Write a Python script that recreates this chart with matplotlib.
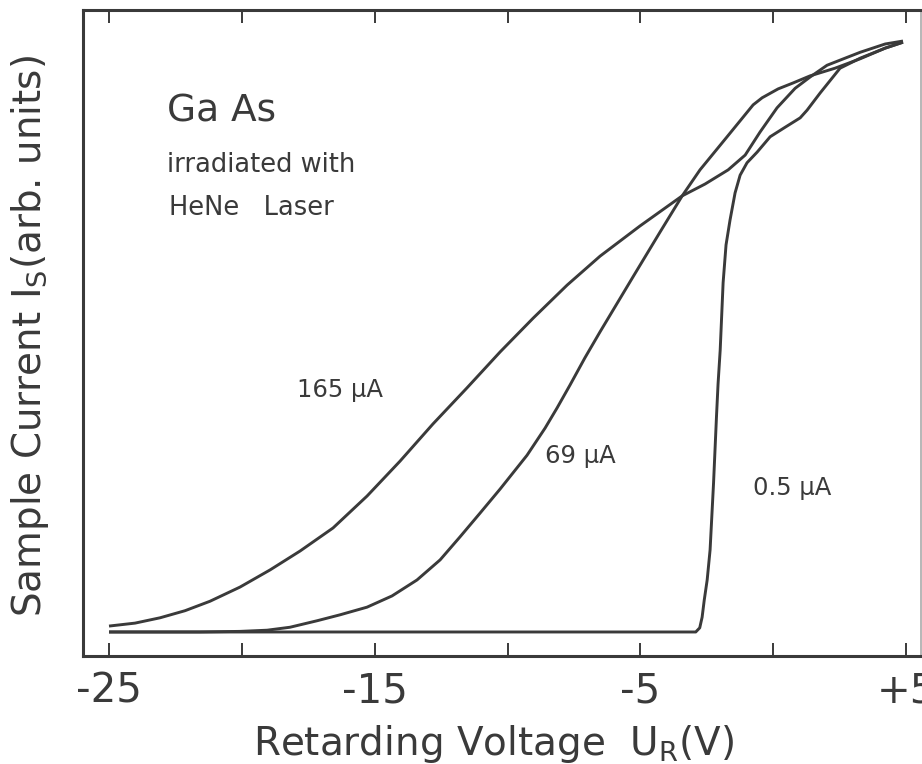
import matplotlib.pyplot as plt

plt.rcParams['font.family'] = ['DejaVu Sans']

INK = '#3a3a3a'

# retarding voltage (V) and sample current (arb. units) for each beam current
u_165 = [-25.0, -24.02, -23.08, -22.14, -21.20, -20.07, -18.94, -17.81, -16.57,
         -15.29, -14.05, -12.81, -11.53, -10.28, -9.04, -7.76, -6.52, -5.02,
         -3.43, -2.57, -1.70, -1.06, -0.50, 0.14, 0.82, 1.38, 2.02, 2.70, 3.27,
         4.21, 4.88]
i_165 = [0.010, 0.015, 0.024, 0.036, 0.052, 0.076, 0.105, 0.137, 0.176,
         0.230, 0.289, 0.352, 0.413, 0.474, 0.531, 0.587, 0.636, 0.687,
         0.738, 0.758, 0.782, 0.807, 0.846, 0.887, 0.920, 0.939, 0.959, 0.971, 0.981,
         0.995, 1.000]

u_69 = [-25.0, -21.58, -20.07, -19.05, -18.19, -17.17, -16.31, -15.29, -14.35,
        -13.41, -12.54, -11.79, -11.04, -10.28, -9.27, -8.59, -8.14, -7.65,
        -7.09, -6.52, -5.28, -4.26, -3.43, -2.76, -1.74, -1.25, -0.76, -0.42,
        0.18, 0.74, 1.38, 2.32, 3.27, 4.21, 4.88]
i_69 = [0.0, 0.0, 0.001, 0.003, 0.008, 0.019, 0.029, 0.042, 0.061,
        0.088, 0.122, 0.161, 0.201, 0.242, 0.299, 0.345, 0.379, 0.418,
        0.464, 0.508, 0.601, 0.677, 0.738, 0.782, 0.838, 0.865, 0.892, 0.904,
        0.919, 0.929, 0.941, 0.954, 0.970, 0.988, 0.998]

u_05 = [-25.0, -2.92, -2.77, -2.68, -2.60, -2.49, -2.38, -2.25, -2.14, -2.08,
        -2.00, -1.89, -1.78, -1.63, -1.44, -1.25, -0.99, -0.61, -0.12, 0.44,
        1.01, 1.27, 1.76, 2.51, 3.27, 4.21, 4.88]
i_05 = [0.0, 0.0, 0.007, 0.025, 0.054, 0.088, 0.139, 0.252, 0.364, 0.420,
        0.477, 0.591, 0.655, 0.697, 0.743, 0.773, 0.794, 0.812, 0.838, 0.854,
        0.870, 0.883, 0.912, 0.954, 0.971, 0.988, 0.998]

tick_pos = [-25, -20, -15, -10, -5, 0, 5]
tick_txt = ['-25', '', '-15', '', '-5', '', '+5']

fig = plt.figure(figsize=(9.22, 7.64), dpi=100)
ax = fig.add_axes([0.090, 0.1414, 0.909, 0.8455])

for u, i in [(u_165, i_165), (u_69, i_69), (u_05, i_05)]:
    ax.plot(u, i, color=INK, lw=2.1, solid_joinstyle='round', solid_capstyle='butt')

ax.set_xlim(-25.98, 5.56)
ax.set_ylim(-0.0406, 1.0525)

ax.set_xticks(tick_pos)
ax.set_xticklabels(tick_txt)
ax.set_yticks([])
ax.tick_params(axis='x', direction='in', length=9.5, width=1.4, color=INK,
               top=True, labelsize=29, labelcolor=INK, pad=11)

for side in ['left', 'top', 'bottom']:
    ax.spines[side].set_linewidth(2.2)
    ax.spines[side].set_color(INK)
ax.spines['right'].set_linewidth(1.2)
ax.spines['right'].set_color('#aaaaaa')

# labels on the curves and the sample note
ax.text(-22.82, 0.863, 'Ga As', fontsize=27, color=INK, va='baseline')
ax.text(-22.82, 0.778, 'irradiated with', fontsize=18.5, color=INK, va='baseline')
ax.text(-22.75, 0.706, 'HeNe   Laser', fontsize=18.5, color=INK, va='baseline')
ax.text(-17.92, 0.398, '165 µA', fontsize=17.5, color=INK, va='baseline')
ax.text(-8.59, 0.286, '69 µA', fontsize=17.5, color=INK, va='baseline')
ax.text(-0.76, 0.232, '0.5 µA', fontsize=17.5, color=INK, va='baseline')

fig.text(494 / 922, 1 - 744 / 764, r'Retarding Voltage  $\mathregular{U_R}$(V)',
         fontsize=28, color=INK, ha='center', va='center')
fig.text(30 / 922, 1 - 336 / 764, r'Sample Current $\mathregular{I_S}$(arb. units)',
         fontsize=28, color=INK, ha='center', va='center', rotation=90)

fig.savefig('out.png', dpi=100)
